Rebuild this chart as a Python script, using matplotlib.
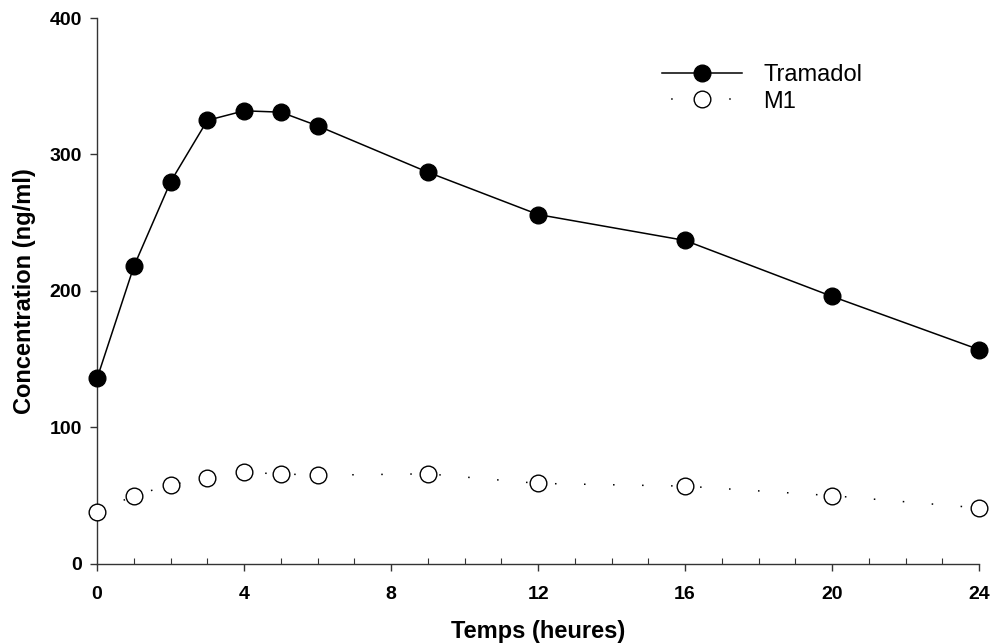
import matplotlib
matplotlib.use('Agg')
import matplotlib.pyplot as plt
from matplotlib.ticker import MultipleLocator

plt.rcParams['font.family'] = ['Liberation Sans', 'DejaVu Sans']

temps = [0, 1, 2, 3, 4, 5, 6, 9, 12, 16, 20, 24]
tramadol = [136, 218, 280, 325, 332, 331, 321, 287, 256, 237, 196, 157]
m1 = [38, 50, 58, 63, 67, 66, 65, 66, 59, 57, 50, 41]

fig = plt.figure(figsize=(9.91, 6.43), dpi=100)
ax = fig.add_axes([0.098, 0.123, 0.89, 0.849])

ax.plot(temps, tramadol, color='black', linewidth=1.1, marker='o', markersize=12,
        markerfacecolor='black', markeredgecolor='black', label='Tramadol', zorder=3)
ax.plot(temps, m1, color='black', linewidth=1.1, linestyle=(0, (1, 18)), marker='o',
        markersize=12, markerfacecolor='white', markeredgecolor='black',
        markeredgewidth=1.0, label='M1', zorder=3)

ax.set_xlim(0, 24)
ax.set_ylim(0, 400)
ax.set_xticks([0, 4, 8, 12, 16, 20, 24])
ax.xaxis.set_minor_locator(MultipleLocator(1))
ax.set_yticks([0, 100, 200, 300, 400])

ax.spines['top'].set_visible(False)
ax.spines['right'].set_visible(False)
for s in ['left', 'bottom']:
    ax.spines[s].set_linewidth(1.0)
    ax.spines[s].set_color('#333333')
for line in ax.lines:
    line.set_clip_on(False)

ax.tick_params(axis='both', which='major', direction='out', length=5, width=1.0,
               labelsize=14, color='#333333')
ax.tick_params(axis='x', which='major', pad=11)
ax.tick_params(axis='y', which='major', pad=6)
ax.tick_params(axis='x', which='minor', direction='in', length=4, width=0.8, color='#333333')
for lbl in ax.get_xticklabels() + ax.get_yticklabels():
    lbl.set_fontweight('bold')

ax.set_xlabel('Temps (heures)', fontsize=17, fontweight='bold', labelpad=12)
ax.set_ylabel('Concentration (ng/ml)', fontsize=17, fontweight='bold', labelpad=10)

leg = ax.legend(loc='upper left', bbox_to_anchor=(662 / 991, 1 - 64 / 643),
                bbox_transform=fig.transFigure, frameon=False, borderpad=0,
                borderaxespad=0, fontsize=17, handlelength=3.4, handletextpad=0.9,
                labelspacing=0.2)
leg.get_lines()[1].set_linestyle((13, (1, 18)))

fig.savefig('out.png', dpi=100)
